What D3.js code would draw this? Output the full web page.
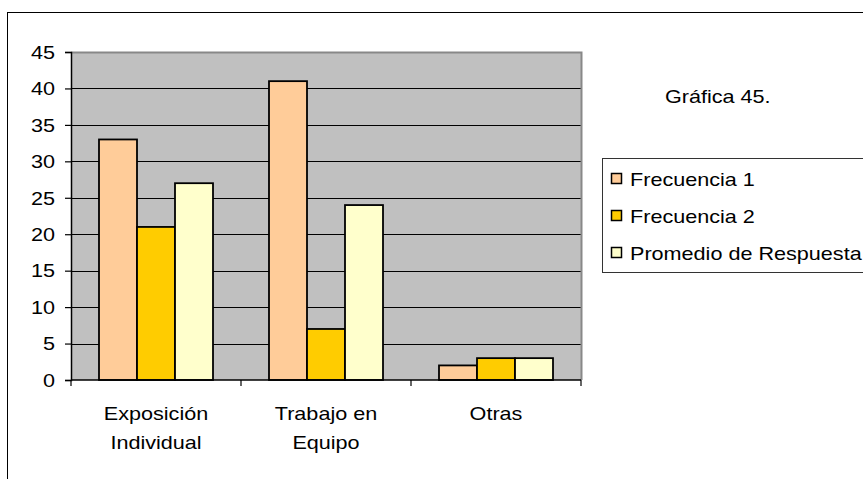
<!DOCTYPE html>
<html>
<head>
<meta charset="utf-8">
<script src="https://cdn.jsdelivr.net/npm/d3@7"></script>
<style>
  body { margin: 0; background: #fff; }
  text { font-family: "Liberation Sans", Arial, sans-serif; fill: #000; }
</style>
</head>
<body>
<div id="chart"></div>
<script>
var categories = [["Exposición", "Individual"], ["Trabajo en", "Equipo"], ["Otras"]];
var seriesNames = ["Frecuencia 1", "Frecuencia 2", "Promedio de Respuesta"];
var frecuencia1 = [33, 41, 2];
var frecuencia2 = [21, 7, 3];
var promedio = [27, 24, 3];
var colors = ["#ffcc99", "#ffcc00", "#ffffcc"];
var yTicks = [0, 5, 10, 15, 20, 25, 30, 35, 40, 45];

// one row per category: [F1, F2, Promedio]
var series = [frecuencia1, frecuencia2, promedio];
var values = categories.map(function(c, i) {
  return series.map(function(s) { return s[i]; });
});

var width = 863, height = 479;
var plot = {left: 71, right: 581, top: 52, bottom: 380};
var sx = 1.2; // text looks horizontally stretched in the original

var svg = d3.select("#chart").append("svg")
  .attr("width", width)
  .attr("height", height);

// outer frame
svg.append("rect")
  .attr("x", 7.5).attr("y", 12.5)
  .attr("width", 900).attr("height", 600)
  .attr("fill", "#fff").attr("stroke", "#000").attr("stroke-width", 1);

var xScale = d3.scaleBand()
  .domain(d3.range(categories.length))
  .range([plot.left, plot.right]);

var xInner = d3.scaleBand()
  .domain(d3.range(seriesNames.length))
  .range([28, xScale.bandwidth() - 28]);

var yScale = d3.scaleLinear()
  .domain([0, 45])
  .range([plot.bottom, plot.top]);

// plot background
svg.append("rect")
  .attr("x", plot.left).attr("y", plot.top)
  .attr("width", plot.right - plot.left).attr("height", plot.bottom - plot.top)
  .attr("fill", "#c0c0c0");

// grid lines
svg.append("g")
  .selectAll("line")
  .data(yTicks.filter(function(d) { return d > 0 && d < 45; }))
  .join("line")
  .attr("x1", plot.left).attr("x2", plot.right)
  .attr("y1", function(d) { return Math.round(yScale(d)) + 0.5; })
  .attr("y2", function(d) { return Math.round(yScale(d)) + 0.5; })
  .attr("stroke", "#000").attr("stroke-width", 1);

// top and right border of plot area
svg.append("path")
  .attr("d", "M" + plot.left + "," + (plot.top + 0.5) + "H" + (plot.right + 0.5) + "V" + plot.bottom)
  .attr("fill", "none").attr("stroke", "#888").attr("stroke-width", 2);

// bars
var groups = svg.append("g")
  .selectAll("g")
  .data(values)
  .join("g")
  .attr("transform", function(d, i) { return "translate(" + xScale(i) + ",0)"; });

groups.selectAll("rect")
  .data(function(d) { return d; })
  .join("rect")
  .attr("x", function(d, j) { return xInner(j); })
  .attr("y", function(d) { return yScale(d); })
  .attr("width", xInner.bandwidth())
  .attr("height", function(d) { return yScale(0) - yScale(d); })
  .attr("fill", function(d, j) { return colors[j]; })
  .attr("stroke", "#000").attr("stroke-width", 1.8);

// y axis
var yAxis = svg.append("g")
  .attr("transform", "translate(" + plot.left + ",0)")
  .call(d3.axisLeft(yScale).tickValues(yTicks).tickSize(6).tickPadding(9));
yAxis.select(".domain").attr("stroke", "#000").attr("stroke-width", 1.5);
yAxis.selectAll(".tick line").attr("stroke", "#000").attr("stroke-width", 1.2);
yAxis.selectAll(".tick text")
  .attr("font-size", 18)
  .attr("font-family", "Liberation Sans, Arial, sans-serif")
  .attr("fill", "#000")
  .attr("transform", "scale(" + sx + ",1)")
  .attr("x", -16 / sx)
  .attr("dy", "0.35em");

// x axis
var xAxis = svg.append("g")
  .attr("transform", "translate(0," + plot.bottom + ")");
xAxis.append("line")
  .attr("x1", plot.left).attr("x2", plot.right)
  .attr("stroke", "#000").attr("stroke-width", 1.5);
xAxis.selectAll(".xtick")
  .data(d3.range(categories.length + 1))
  .join("line")
  .attr("class", "xtick")
  .attr("x1", function(d) { return plot.left + d * xScale.bandwidth(); })
  .attr("x2", function(d) { return plot.left + d * xScale.bandwidth(); })
  .attr("y1", 0).attr("y2", 6)
  .attr("stroke", "#000").attr("stroke-width", 1.2);

var catLabels = svg.append("g")
  .selectAll("text")
  .data(categories)
  .join("text")
  .attr("text-anchor", "middle")
  .attr("font-size", 18)
  .attr("transform", function(d, i) {
    return "translate(" + (xScale(i) + xScale.bandwidth() / 2) + ",420) scale(" + sx + ",1)";
  });
catLabels.selectAll("tspan")
  .data(function(d) { return d; })
  .join("tspan")
  .attr("x", 0)
  .attr("y", function(d, k) { return k * 29; })
  .text(function(d) { return d; });

// title
svg.append("text")
  .attr("font-size", 18)
  .attr("transform", "translate(665,103) scale(" + sx + ",1)")
  .text("Gráfica 45.");

// legend
var legend = svg.append("g");
legend.append("rect")
  .attr("x", 602.5).attr("y", 158.5)
  .attr("width", 300).attr("height", 114)
  .attr("fill", "#fff").attr("stroke", "#333").attr("stroke-width", 1);

var items = legend.selectAll(".item")
  .data(seriesNames)
  .join("g")
  .attr("class", "item")
  .attr("transform", function(d, i) { return "translate(0," + (186 + i * 37) + ")"; });

items.append("rect")
  .attr("x", 611.5).attr("y", -12.5)
  .attr("width", 10).attr("height", 10)
  .attr("fill", function(d, i) { return colors[i]; })
  .attr("stroke", "#000").attr("stroke-width", 1.5);

items.append("text")
  .attr("font-size", 18)
  .attr("transform", "translate(630,0) scale(" + sx + ",1)")
  .text(function(d) { return d; });
</script>
</body>
</html>
